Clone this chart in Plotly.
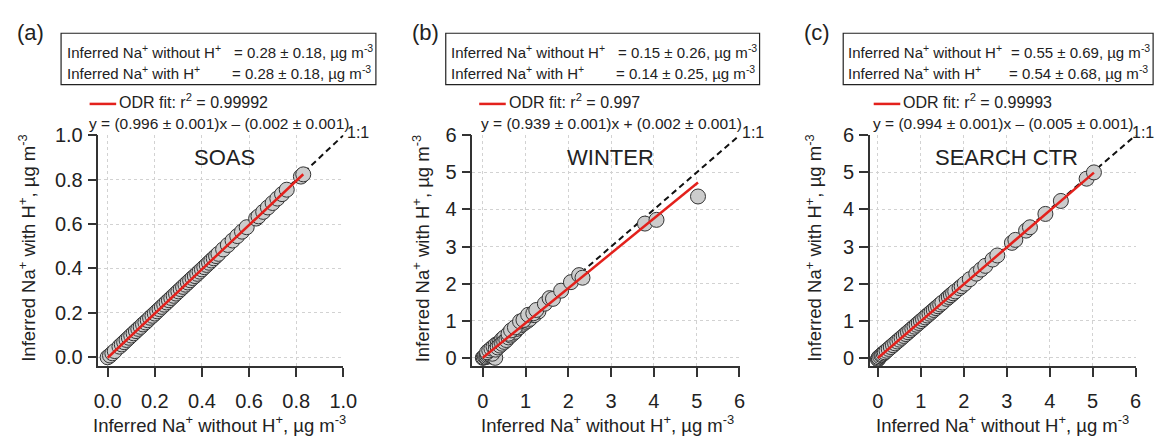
import plotly.graph_objects as go

W, H = 1174, 437

# ---------------- data ----------------
soas_x = [0.00, 0.01, 0.02, 0.03, 0.05, 0.06, 0.07, 0.08, 0.09, 0.10, 0.11, 0.12, 0.13, 0.14,
          0.15, 0.16, 0.17, 0.18, 0.19, 0.20, 0.21, 0.22, 0.23, 0.24, 0.25, 0.26, 0.27, 0.28,
          0.29, 0.30, 0.31, 0.32, 0.33, 0.34, 0.35, 0.36, 0.37, 0.38, 0.39, 0.40, 0.41, 0.42,
          0.43, 0.44, 0.45, 0.46, 0.47, 0.49, 0.51, 0.53, 0.55, 0.57, 0.59, 0.63, 0.64, 0.66,
          0.68, 0.70, 0.72, 0.74, 0.76, 0.82, 0.83]
soas_y = [0.000, 0.008, 0.018, 0.028, 0.048, 0.058, 0.068, 0.078, 0.088, 0.098, 0.108, 0.118,
          0.128, 0.137, 0.148, 0.157, 0.167, 0.178, 0.187, 0.197, 0.207, 0.217, 0.227, 0.237,
          0.247, 0.257, 0.267, 0.277, 0.287, 0.297, 0.307, 0.317, 0.327, 0.337, 0.347, 0.357,
          0.366, 0.376, 0.386, 0.396, 0.406, 0.416, 0.426, 0.436, 0.446, 0.456, 0.466, 0.486,
          0.506, 0.526, 0.546, 0.566, 0.586, 0.625, 0.635, 0.655, 0.675, 0.695, 0.715, 0.735,
          0.755, 0.814, 0.824]

winter_x = [0.00, 0.02, 0.05, 0.08, 0.10, 0.12, 0.15, 0.18, 0.20, 0.25, 0.29, 0.22, 0.10, 0.15,
            0.20, 0.25, 0.30, 0.35, 0.40, 0.45, 0.50, 0.30, 0.35, 0.40, 0.45, 0.50, 0.55, 0.60,
            0.65, 0.70, 0.75, 0.80, 0.85, 0.90, 0.95, 1.00, 1.05, 1.10, 1.20, 1.30, 0.60, 0.66,
            0.75, 0.87, 0.95, 1.06, 1.18, 1.25, 1.45, 1.56, 1.64, 1.83, 2.06, 2.25, 2.33, 3.79,
            4.06, 5.03]
winter_y = [0.00, 0.01, 0.03, 0.02, 0.05, 0.08, 0.10, 0.12, 0.05, 0.02, 0.00, 0.11, 0.15, 0.20,
            0.25, 0.30, 0.35, 0.38, 0.42, 0.50, 0.55, 0.22, 0.28, 0.33, 0.38, 0.43, 0.48, 0.55,
            0.60, 0.65, 0.70, 0.78, 0.82, 0.88, 0.92, 0.97, 1.00, 1.05, 1.15, 1.25, 0.65, 0.74,
            0.82, 0.98, 1.02, 1.16, 1.20, 1.29, 1.46, 1.61, 1.59, 1.81, 2.04, 2.23, 2.16, 3.62,
            3.72, 4.35]

ctr_x = [0.00, 0.01, 0.02, 0.05, 0.08, 0.10, 0.13, 0.16, 0.20, 0.25, 0.30, 0.35, 0.40, 0.45,
         0.50, 0.55, 0.60, 0.65, 0.70, 0.75, 0.80, 0.85, 0.90, 0.95, 1.00, 1.05, 1.10, 1.15,
         1.20, 1.25, 1.30, 1.35, 1.40, 1.45, 1.50, 1.60, 1.65, 1.70, 1.75, 1.80, 1.90, 1.95,
         2.02, 2.14, 2.29, 2.40, 2.50, 2.67, 2.78, 3.12, 3.20, 3.45, 3.54, 3.90, 4.26, 4.86,
         5.03]
ctr_y = [-0.04, -0.02, 0.01, 0.04, 0.07, 0.09, 0.12, 0.15, 0.19, 0.24, 0.29, 0.34, 0.39, 0.44,
         0.49, 0.54, 0.59, 0.64, 0.69, 0.74, 0.79, 0.84, 0.89, 0.94, 0.99, 1.04, 1.09, 1.14,
         1.19, 1.24, 1.29, 1.34, 1.39, 1.44, 1.49, 1.59, 1.64, 1.69, 1.74, 1.79, 1.88, 1.93,
         2.00, 2.12, 2.27, 2.38, 2.48, 2.65, 2.76, 3.10, 3.18, 3.43, 3.52, 3.88, 4.23, 4.83,
         5.00]

# ODR fit parameters (slope, intercept)
fit_a = (0.996, -0.002)
fit_b = (0.939, 0.002)
fit_c = (0.994, -0.005)

panel_letters = ["(a)", "(b)", "(c)"]
campaigns = ["SOAS", "WINTER", "SEARCH CTR"]
r2_labels = ["0.99992", "0.997", "0.99993"]
eq_labels = ["y = (0.996 ± 0.001)x – (0.002 ± 0.001)",
             "y = (0.939 ± 0.001)x + (0.002 ± 0.001)",
             "y = (0.994 ± 0.001)x – (0.005 ± 0.001)"]
mean_without = ["0.28 ± 0.18", "0.15 ± 0.26", "0.55 ± 0.69"]
mean_with = ["0.28 ± 0.18", "0.14 ± 0.25", "0.54 ± 0.68"]
x_ticks_a = [0.0, 0.2, 0.4, 0.6, 0.8, 1.0]
x_ticks_bc = [0, 1, 2, 3, 4, 5, 6]

# ---------------- layout geometry (pixels) ----------------
panels = [
    dict(x0=95, x1=344, xr=[-0.039, 1.0005], yr=[-0.039, 1.0005], ticks=x_ticks_a, fmt=".1f",
         data=(soas_x, soas_y), fit=fit_a, maxv=1.0,
         box=(57, 377), txt0=61, lab=10, leg=86, eqx=83, onex=346,
         ytx=23, xtx=218, titx=223),
    dict(x0=475, x1=746.7, xr=[-0.246, 6.003], yr=[-0.219, 6.003], ticks=x_ticks_bc, fmt="d",
         data=(winter_x, winter_y), fit=fit_b, maxv=6,
         box=(448, 767), txt0=451, lab=412, leg=482, eqx=482, onex=747,
         ytx=423, xtx=612, titx=615),
    dict(x0=879, x1=1149.3, xr=[-0.19, 6.003], yr=[-0.219, 6.003], ticks=x_ticks_bc, fmt="d",
         data=(ctr_x, ctr_y), fit=fit_c, maxv=6,
         box=(852, 1167), txt0=855, lab=810, leg=883, eqx=880, onex=1143,
         ytx=822, xtx=1014, titx=1018),
]
Y_TOP, Y_BOT = 128.3, 366.7

FONT = "Liberation Sans, Arial, sans-serif"
TXT = "#222222"

def px(x):
    return x / W

def py(y):
    return 1 - y / H

fig = go.Figure()
annotations = []
shapes = []

for i, p in enumerate(panels):
    n = "" if i == 0 else str(i + 1)
    xa, ya = "x" + n, "y" + n
    dx, dy = p["data"]
    m, c = p["fit"]
    # 1:1 line
    fig.add_trace(go.Scatter(x=[0, p["maxv"]], y=[0, p["maxv"]], mode="lines",
                             line=dict(color="#111111", width=2, dash="6px,4px"),
                             xaxis=xa, yaxis=ya, showlegend=False, cliponaxis=False))
    # points
    fig.add_trace(go.Scatter(x=dx, y=dy, mode="markers",
                             marker=dict(size=15, color="#cccccc",
                                         line=dict(color="#333333", width=1)),
                             xaxis=xa, yaxis=ya, showlegend=False, cliponaxis=False))
    # ODR fit line
    xmin, xmax = min(dx), max(dx)
    fig.add_trace(go.Scatter(x=[xmin, xmax], y=[m * xmin + c, m * xmax + c], mode="lines",
                             line=dict(color="#e3211c", width=2.5),
                             xaxis=xa, yaxis=ya, showlegend=False, cliponaxis=False))

    axcommon = dict(showline=True, linecolor="#333333", linewidth=1.5, ticks="outside",
                    ticklen=9, tickwidth=1.5, tickcolor="#333333", showgrid=True,
                    gridcolor="#d2d2d2", griddash="dot", gridwidth=1, zeroline=False,
                    tickfont=dict(family=FONT, size=20, color=TXT), mirror=False,
                    tickmode="array", tickvals=p["ticks"],
                    ticktext=[format(t, ".1f") if p["fmt"] == ".1f" else str(int(t)) for t in p["ticks"]])
    fig.update_layout(**{
        ("xaxis" + n): dict(axcommon, domain=[px(p["x0"]), px(p["x1"])], range=p["xr"],
                            anchor=ya, ticklabelstandoff=7),
        ("yaxis" + n): dict(axcommon, domain=[py(Y_BOT), py(Y_TOP)], range=p["yr"],
                            anchor=xa, ticklabelstandoff=1),
    })

    # panel letter
    annotations.append(dict(x=px(p["lab"]), y=py(22), xref="paper", yref="paper",
                            text=panel_letters[i], showarrow=False, xanchor="left",
                            yanchor="middle", font=dict(family=FONT, size=22, color=TXT)))
    # box
    shapes.append(dict(type="rect", xref="paper", yref="paper", x0=px(p["box"][0]),
                       x1=px(p["box"][1]), y0=py(76), y1=py(23),
                       line=dict(color="#222222", width=1.2), fillcolor="rgba(0,0,0,0)"))
    for yy, lhs, rshift, val in [(42, "Inferred Na<sup>+</sup> without H<sup>+</sup>", 1, mean_without[i]),
                                 (64, "Inferred Na<sup>+</sup> with H<sup>+</sup>", 3, mean_with[i])]:
        annotations.append(dict(x=px(p["txt0"]), y=py(yy), xref="paper", yref="paper",
                                text=lhs, showarrow=False, xanchor="left", yanchor="middle",
                                font=dict(family=FONT, size=15, color=TXT)))
        annotations.append(dict(x=px(p["box"][1] - rshift), y=py(yy), xref="paper", yref="paper",
                                text="= " + val + ", µg m<sup>-3</sup>", showarrow=False,
                                xanchor="right", yanchor="middle",
                                font=dict(family=FONT, size=15, color=TXT)))
    # legend
    shapes.append(dict(type="line", xref="paper", yref="paper", x0=px(p["leg"]),
                       x1=px(p["leg"] + 27), y0=py(96), y1=py(96),
                       line=dict(color="#e3211c", width=2.5)))
    annotations.append(dict(x=px(p["leg"] + 28), y=py(93), xref="paper", yref="paper",
                            text="ODR fit: r<sup>2</sup> = " + r2_labels[i], showarrow=False,
                            xanchor="left", yanchor="middle",
                            font=dict(family=FONT, size=16, color=TXT)))
    annotations.append(dict(x=px(p["eqx"]), y=py(116), xref="paper", yref="paper",
                            text=eq_labels[i], showarrow=False, xanchor="left",
                            yanchor="middle", font=dict(family=FONT, size=15.5, color=TXT)))
    annotations.append(dict(x=px(p["onex"]), y=py(126), xref="paper", yref="paper",
                            text="1:1", showarrow=False, xanchor="left", yanchor="middle",
                            font=dict(family=FONT, size=16, color=TXT)))
    # campaign title
    annotations.append(dict(x=px(p["titx"]), y=py(151), xref="paper", yref="paper",
                            text=campaigns[i], showarrow=False, xanchor="center",
                            yanchor="middle", font=dict(family=FONT, size=22, color=TXT)))
    # axis titles
    annotations.append(dict(x=px(p["xtx"]), y=py(427), xref="paper", yref="paper",
                            text="Inferred Na<sup>+</sup> without H<sup>+</sup>, µg m<sup>-3</sup>",
                            showarrow=False, xanchor="center", yanchor="middle",
                            font=dict(family=FONT, size=18.5, color=TXT)))
    annotations.append(dict(x=px(p["ytx"]), y=py(245), xref="paper", yref="paper",
                            text="Inferred Na<sup>+</sup> with H<sup>+</sup>, µg m<sup>-3</sup>",
                            showarrow=False, xanchor="center", yanchor="middle", textangle=-90,
                            font=dict(family=FONT, size=18.5, color=TXT)))

fig.update_layout(width=W, height=H, margin=dict(l=0, r=0, t=0, b=0),
                  paper_bgcolor="white", plot_bgcolor="white",
                  annotations=annotations, shapes=shapes, showlegend=False)

fig.write_html("out.html")
